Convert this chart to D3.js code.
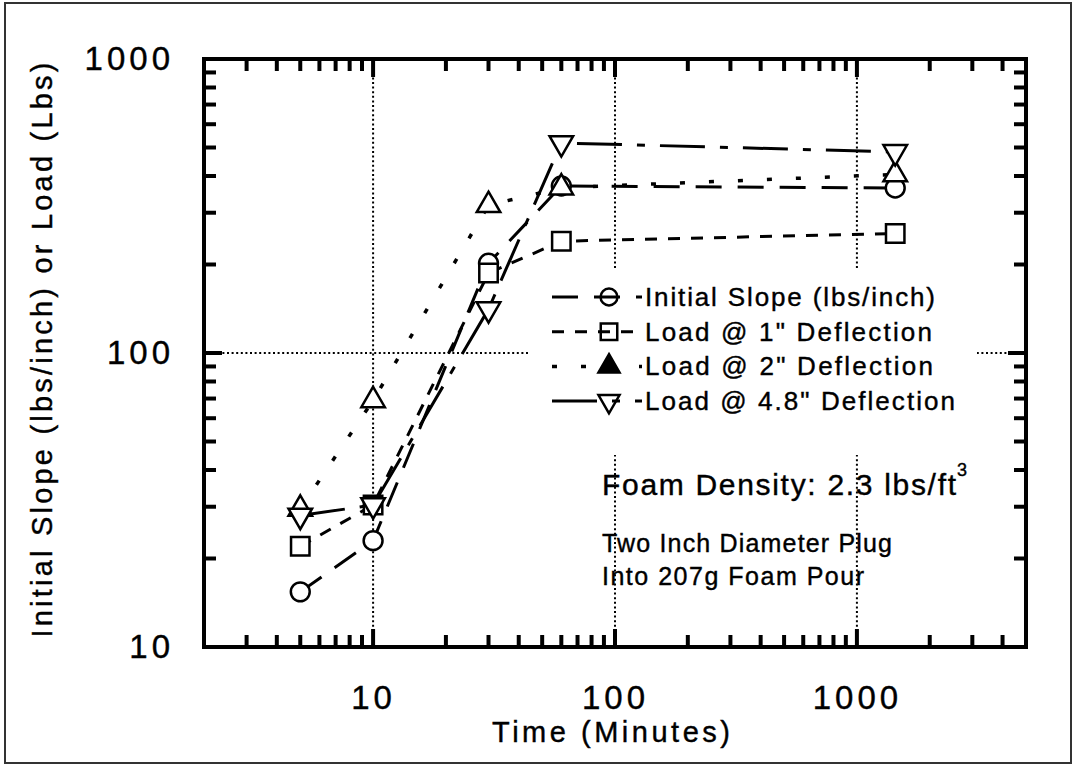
<!DOCTYPE html>
<html>
<head>
<meta charset="utf-8">
<script src="https://cdn.jsdelivr.net/npm/d3@7"></script>
<style>
  body { margin: 0; background: #fff; }
  svg { display: block; }
  text { font-family: "Liberation Sans", Arial, Helvetica, sans-serif; fill: #000; stroke: #000; stroke-width: 0.4px; }
</style>
</head>
<body>
<svg id="chart" width="1083" height="766"></svg>
<script>
// data
const times = [5, 10, 30, 60, 1440];
const initialSlope = [15.4, 23, 202, 370, 364];
const load1 = [22, 30.4, 187, 240, 255];
const load2 = [29.5, 69, 318, 365, 405];
const load48 = [28, 30.4, 141, 518, 483];
const seriesNames = ["Initial Slope (lbs/inch)", "Load @ 1\" Deflection", "Load @ 2\" Deflection", "Load @ 4.8\" Deflection"];
const xMajor = [10, 100, 1000];
const yMajor = [10, 100, 1000];
const xTickLabels = ["10", "100", "1000"];
const yTickLabels = ["10", "100", "1000"];

const pLeft = 204, pRight = 1026, pTop = 59, pBottom = 647;

const svg = d3.select("#chart");

// outer border of the figure
svg.append("rect")
    .attr("x", 5).attr("y", 3)
    .attr("width", 1066).attr("height", 760)
    .attr("fill", "none")
    .attr("stroke", "#333")
    .attr("stroke-width", 2);

const x = d3.scaleLog().domain([2, 5000]).range([pLeft, pRight]);
const y = d3.scaleLog().domain([10, 1000]).range([pBottom, pTop]);

const isMajor = (v, majors) => majors.some(m => Math.abs(v - m) / m < 1e-6);
const xMinor = x.ticks().filter(v => !isMajor(v, xMajor) && v > 2.01 && v < 4999);
const yMinor = y.ticks().filter(v => !isMajor(v, yMajor));

// dotted grid
const grid = svg.append("g")
    .attr("stroke", "#000")
    .attr("stroke-width", 2)
    .attr("stroke-dasharray", "2,2.6");
grid.selectAll(".vg").data(xMajor).join("line")
    .attr("class", "vg")
    .attr("x1", d => x(d)).attr("x2", d => x(d))
    .attr("y1", pTop).attr("y2", pBottom);
grid.append("line")
    .attr("x1", pLeft).attr("x2", pRight)
    .attr("y1", y(100)).attr("y2", y(100));

// white area behind the legend
svg.append("rect")
    .attr("x", 528).attr("y", 270)
    .attr("width", 449).attr("height", 185)
    .attr("fill", "#fff");

// inward ticks on all four sides
const tickG = svg.append("g").attr("stroke", "#000").attr("stroke-width", 4);
function xTicks(vals, len) {
    tickG.append("g").selectAll("line").data(vals).join("line")
        .attr("x1", d => x(d)).attr("x2", d => x(d))
        .attr("y1", pBottom).attr("y2", pBottom - len);
    tickG.append("g").selectAll("line").data(vals).join("line")
        .attr("x1", d => x(d)).attr("x2", d => x(d))
        .attr("y1", pTop).attr("y2", pTop + len);
}
function yTicks(vals, len) {
    tickG.append("g").selectAll("line").data(vals).join("line")
        .attr("y1", d => y(d)).attr("y2", d => y(d))
        .attr("x1", pLeft).attr("x2", pLeft + len);
    tickG.append("g").selectAll("line").data(vals).join("line")
        .attr("y1", d => y(d)).attr("y2", d => y(d))
        .attr("x1", pRight).attr("x2", pRight - len);
}
xTicks(xMajor, 18);
xTicks(xMinor, 12);
yTicks(yMajor, 18);
yTicks(yMinor, 12);

// tick labels through d3 axes
const xAxis = svg.append("g")
    .attr("transform", `translate(0,${pBottom})`)
    .call(d3.axisBottom(x).tickValues(xMajor).tickFormat((d, i) => xTickLabels[i]).tickSize(0).tickPadding(39));
const yAxis = svg.append("g")
    .attr("transform", `translate(${pLeft},0)`)
    .call(d3.axisLeft(y).tickValues(yMajor).tickFormat((d, i) => yTickLabels[i]).tickSize(0).tickPadding(30));
[xAxis, yAxis].forEach(g => {
    g.select(".domain").remove();
    g.selectAll(".tick line").remove();
    g.selectAll(".tick text")
        .style("font-size", "33px")
        .style("letter-spacing", "4px")
        .attr("fill", "#000");
});

// frame
svg.append("rect")
    .attr("x", pLeft).attr("y", pTop)
    .attr("width", pRight - pLeft).attr("height", pBottom - pTop)
    .attr("fill", "none")
    .attr("stroke", "#000")
    .attr("stroke-width", 4);

// axis titles
svg.append("text")
    .attr("text-anchor", "middle")
    .attr("transform", "translate(52,350)rotate(-90)")
    .style("font-size", "29px")
    .attr("textLength", 575)
    .attr("lengthAdjust", "spacing")
    .text("Initial Slope (lbs/inch) or Load (Lbs)");

svg.append("text")
    .attr("x", 492).attr("y", 742)
    .style("font-size", "29px")
    .attr("textLength", 238)
    .attr("lengthAdjust", "spacing")
    .text("Time (Minutes)");

// series
const seriesValues = [initialSlope, load1, load2, load48];
const dashes = ["26,16", "12,11", "5,24", "45,15,8,15"];
const widths = [3, 3, 3.5, 3];
const symbols = [d3.symbolCircle, d3.symbolSquare, d3.symbolTriangle, d3.symbolTriangle];
const symSizes = [280, 340, 240, 240];
const rotations = [0, 0, 0, 180];

const series = seriesValues.map((vals, i) => ({
    name: seriesNames[i],
    points: times.map((t, j) => ({ t: t, v: vals[j] }))
}));

const line = d3.line()
    .x(d => x(d.t))
    .y(d => y(d.v));

series.forEach((s, i) => {
    svg.append("path")
        .datum(s.points)
        .attr("fill", "none")
        .attr("stroke", "#000")
        .attr("stroke-width", widths[i])
        .attr("stroke-dasharray", dashes[i])
        .attr("d", line);
});

series.forEach((s, i) => {
    svg.append("g").selectAll("path")
        .data(s.points)
        .join("path")
        .attr("transform", d => `translate(${x(d.t)},${y(d.v)})rotate(${rotations[i]})`)
        .attr("d", d3.symbol().type(symbols[i]).size(symSizes[i]))
        .attr("fill", "#fff")
        .attr("stroke", "#000")
        .attr("stroke-width", 2.5);
});

// legend
const legendWidths = [290, 287, 288, 310];
series.forEach((s, i) => {
    const ly = 297 + i * 34.7;
    const g = svg.append("g");
    g.append("line")
        .attr("x1", 552).attr("x2", 642)
        .attr("y1", ly).attr("y2", ly)
        .attr("stroke", "#000")
        .attr("stroke-width", widths[i])
        .attr("stroke-dasharray", dashes[i]);
    g.append("path")
        .attr("transform", `translate(609,${ly})rotate(${rotations[i]})`)
        .attr("d", d3.symbol().type(symbols[i]).size(symSizes[i] * 0.8))
        .attr("fill", i === 2 ? "#000" : "none")
        .attr("stroke", "#000")
        .attr("stroke-width", 2.5);
    g.append("text")
        .attr("x", 645).attr("y", ly + 9)
        .style("font-size", "26px")
        .attr("textLength", legendWidths[i])
        .attr("lengthAdjust", "spacing")
        .text(s.name);
});

// notes (the dotted verticals show through them, as in the scan)
svg.append("text")
    .attr("x", 602).attr("y", 495)
    .style("font-size", "30px")
    .attr("textLength", 354)
    .attr("lengthAdjust", "spacing")
    .text("Foam Density: 2.3 lbs/ft");
svg.append("text")
    .attr("x", 957).attr("y", 476)
    .style("font-size", "18px")
    .text("3");

svg.append("text")
    .attr("x", 602).attr("y", 552)
    .style("font-size", "25px")
    .attr("textLength", 290)
    .attr("lengthAdjust", "spacing")
    .text("Two Inch Diameter Plug");
svg.append("text")
    .attr("x", 602).attr("y", 585)
    .style("font-size", "25px")
    .attr("textLength", 262)
    .attr("lengthAdjust", "spacing")
    .text("Into 207g Foam Pour");
</script>
</body>
</html>
